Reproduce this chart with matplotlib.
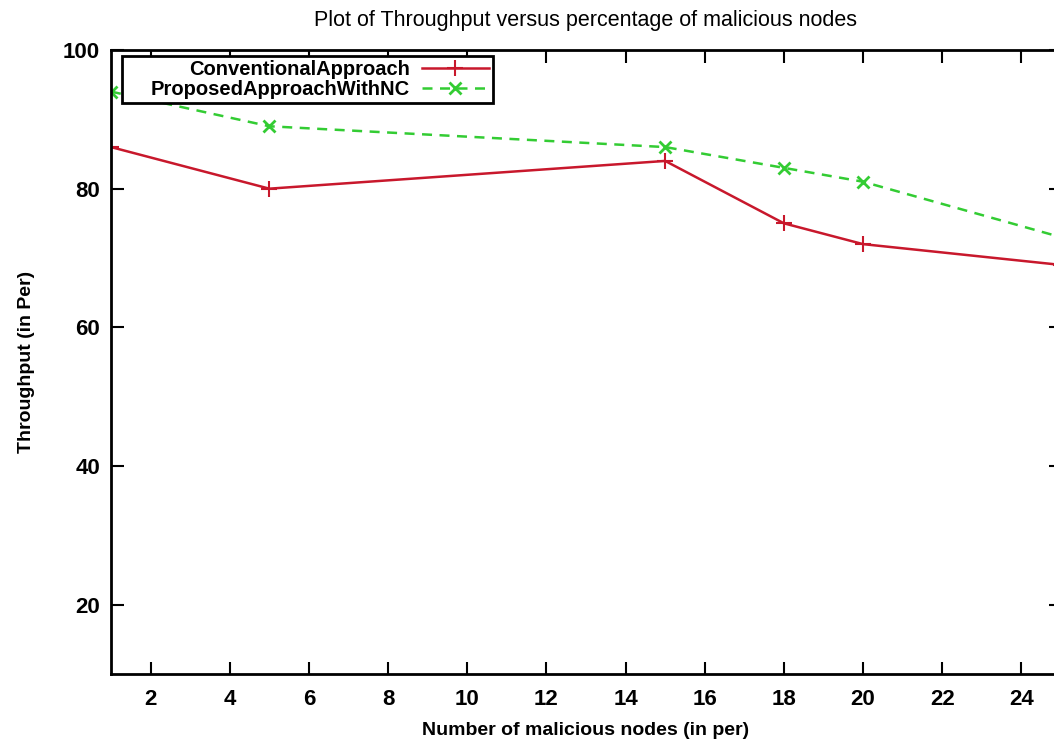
import matplotlib
matplotlib.use("Agg")
import matplotlib.pyplot as plt
from matplotlib.offsetbox import DrawingArea

# data
nodes = [1, 5, 15, 18, 20, 25]
conventional = [86, 80, 84, 75, 72, 69]
proposed = [94, 89, 86, 83, 81, 73]
xticks = [2, 4, 6, 8, 10, 12, 14, 16, 18, 20, 22, 24]
yticks = [20, 40, 60, 80, 100]

plt.rcParams['font.family'] = ['Liberation Sans', 'DejaVu Sans']

fig = plt.figure(figsize=(10.54, 7.40), dpi=100)
ax = fig.add_axes([111 / 1054, 1 - 674 / 740, 950 / 1054, 624 / 740])

ax.plot(nodes, conventional, color='#c8182c', lw=1.8, marker='+', ms=12, mew=1.5,
        label='ConventionalApproach')
ax.plot(nodes, proposed, color='#33cc33', lw=1.8, ls=(0, (4, 3)), marker='x', ms=9, mew=2,
        label='ProposedApproachWithNC')

ax.set_xlim(1, 25)
ax.set_ylim(10, 100)
ax.set_xticks(xticks)
ax.set_yticks(yticks)
ax.tick_params(direction='in', length=9, width=1.5, top=True, right=True, pad=8,
               labelsize=16)
ax.tick_params(axis='x', pad=11)
for lab in ax.get_xticklabels() + ax.get_yticklabels():
    lab.set_fontweight('bold')
for s in ax.spines.values():
    s.set_linewidth(2)

ax.set_title('Plot of Throughput versus percentage of malicious nodes', fontsize=15.5, pad=17.5)
ax.set_xlabel('Number of malicious nodes (in per)', fontsize=14, fontweight='bold', labelpad=8.5)
ax.set_ylabel('Throughput (in Per)', fontsize=14, fontweight='bold', labelpad=20)

leg = ax.legend(loc='upper left', bbox_to_anchor=(0.012, 0.99), markerfirst=False,
                fancybox=False, framealpha=1, edgecolor='black', handlelength=3.3,
                borderpad=0.2, labelspacing=0.05, handletextpad=0.6, borderaxespad=0,
                prop={'size': 14.5, 'weight': 'bold'})
leg.get_frame().set_linewidth(2)
# extra space on the left inside the key box, gnuplot style
col = leg._legend_handle_box.get_children()[0]
for item in col.get_children():
    spacer = DrawingArea(9, 1)
    spacer.set_figure(fig)
    item.get_children().insert(0, spacer)

fig.savefig('out.png', dpi=100)
